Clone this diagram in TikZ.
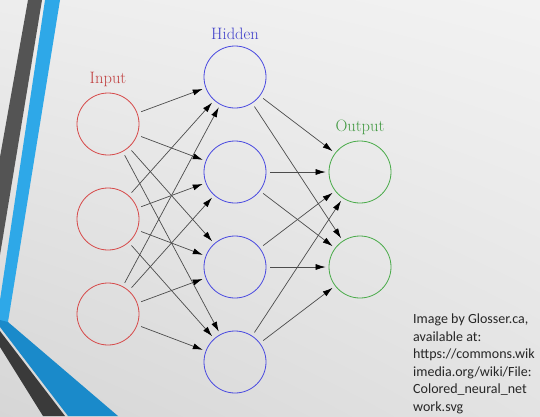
\documentclass[tikz,border=0pt]{standalone}
\usepackage{fontspec}
\newfontfamily\slidefont{Carlito}
\usetikzlibrary{positioning, arrows.meta, shadings}
\definecolor{inred}{RGB}{214,72,72}
\definecolor{hidblue}{RGB}{72,72,224}
\definecolor{outgreen}{RGB}{72,170,72}
\definecolor{stripegray}{RGB}{84,84,84}
\definecolor{bandgray}{RGB}{58,58,58}
\definecolor{stripeblue}{RGB}{46,168,232}
\definecolor{bandblue}{RGB}{26,138,202}

\begin{document}
\begin{tikzpicture}[x=1pt, y=-1pt,
  neuron/.style={circle, draw, line width=0.8pt, minimum size=62pt, inner sep=0pt},
  layername/.style={inner sep=0pt, font=\fontsize{16.5}{19}\selectfont},
  synapse/.style={draw=black!70, line width=0.7pt, shorten <=4pt, shorten >=3pt,
    -{Latex[length=10pt, width=6pt, color=black]}},
]
  \useasboundingbox (0,0) rectangle (540,416);
  % slide background and side stripes
  \shade[upper left=black!7, upper right=black!5, lower left=black!16, lower right=black!11]
    (0,0) rectangle (540,416);
  \fill[stripegray] (28,0) -- (42,0) -- (0,255) -- (0,157) -- cycle;
  \fill[stripeblue] (45,0) -- (60,0) -- (8,322) -- (0,322) -- (0,300) -- cycle;
  \fill[bandblue] (0,320) -- (8,322) -- (118,416) -- (68,416) -- (0,327) -- cycle;
  \fill[bandgray] (0,331) -- (65,416) -- (43,416) -- (0,347) -- cycle;

  % layers
  \foreach \n/\y in {1/124, 2/219, 3/314}
    \node[neuron, draw=inred] (i\n) at (108,\y) {};
  \foreach \n/\y in {1/77, 2/172, 3/267, 4/362}
    \node[neuron, draw=hidblue] (h\n) at (235,\y) {};
  \foreach \n/\y in {1/172, 2/267}
    \node[neuron, draw=outgreen] (o\n) at (360,\y) {};

  \node[layername, text=inred!90!black, above=6pt of i1] (inlabel) {Input};
  \node[layername, text=hidblue!90!black, above=6pt of h1] (hidlabel) {Hidden};
  \node[layername, text=outgreen!90!black, above=6pt of o1] (outlabel) {Output};

  % connections
  \foreach \i in {1,2,3}
    \foreach \h in {1,...,4}
      \draw[synapse] (i\i) -- (h\h);
  \foreach \h in {1,...,4}
    \foreach \o in {1,2}
      \draw[synapse] (h\h) -- (o\o);

  \node[anchor=north west, inner sep=0pt, align=left, text=black!85,
    font=\slidefont\fontsize{14}{17.5}\selectfont] (credit) at (413,314)
    {Image by Glosser.ca,\\available at:\\https://commons.wik\\imedia.org/wiki/File:\\Colored\_neural\_net\\work.svg};
\end{tikzpicture}
\end{document}
